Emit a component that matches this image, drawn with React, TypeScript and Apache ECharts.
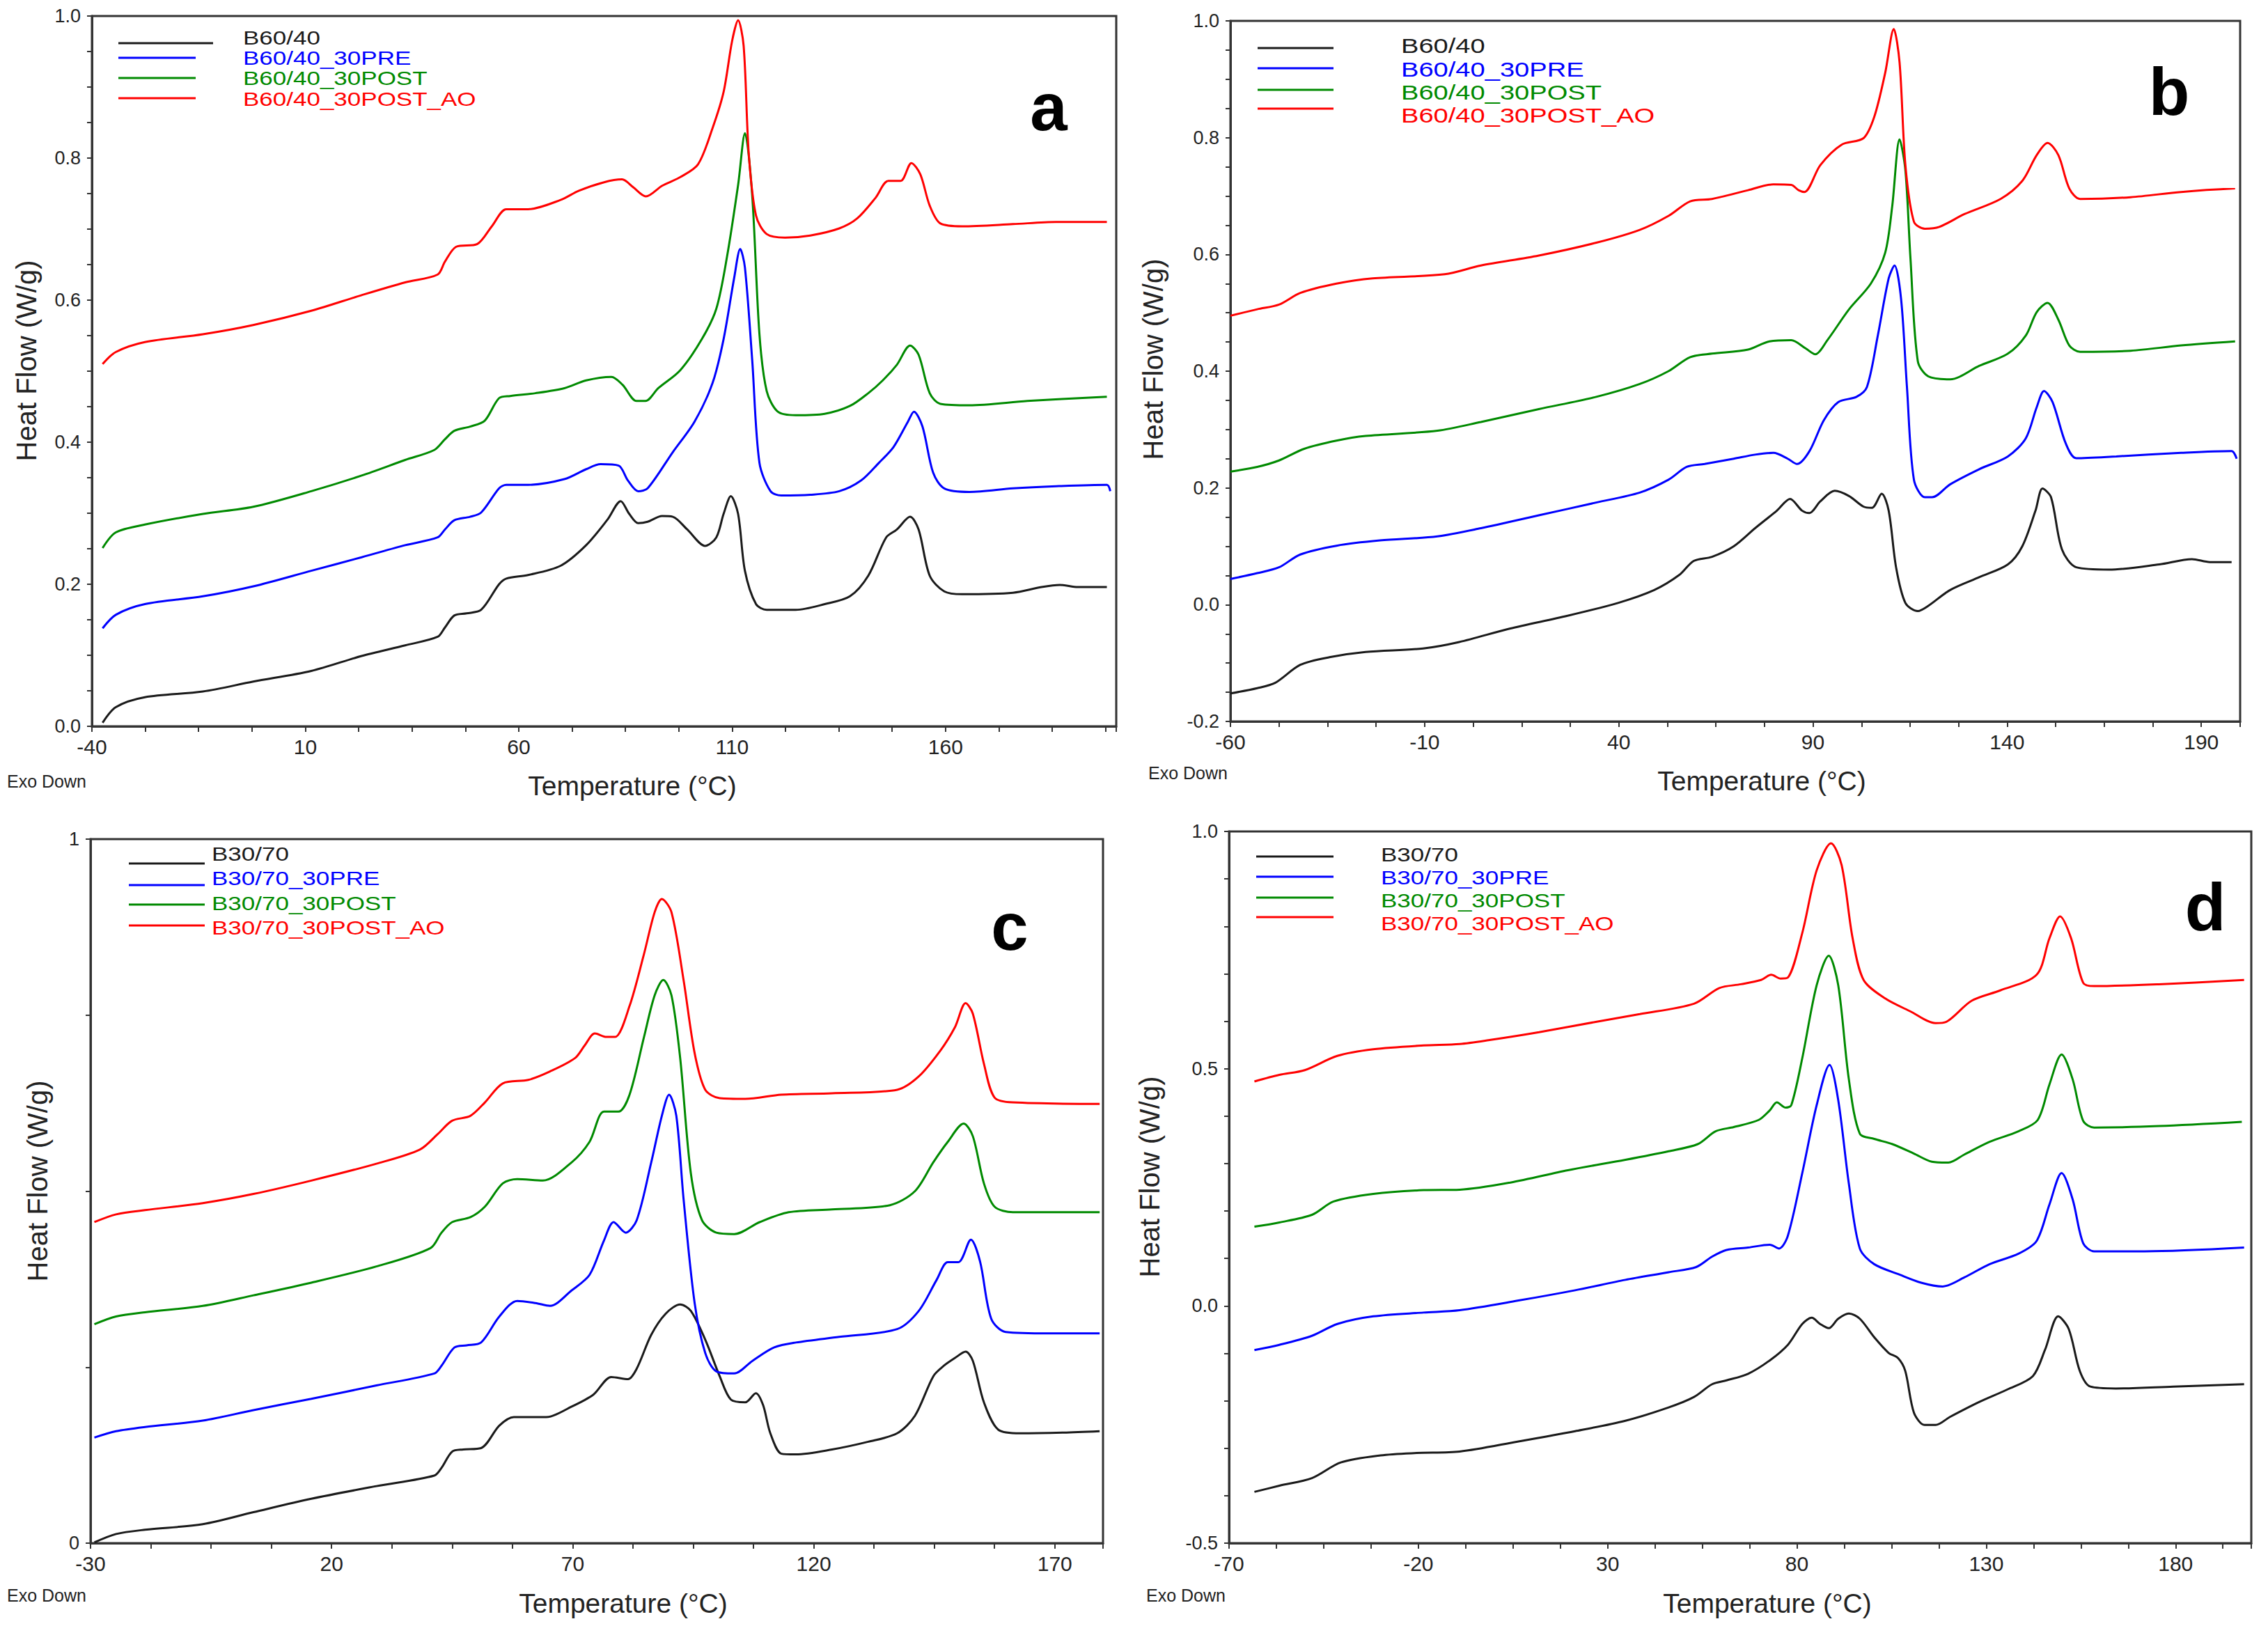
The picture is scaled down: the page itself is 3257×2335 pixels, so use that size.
import React, { useEffect, useRef } from 'react';
import * as echarts from 'echarts';

// ---------- legend names & colours ----------
const namesAB = ['B60/40', 'B60/40_30PRE', 'B60/40_30POST', 'B60/40_30POST_AO'];
const namesCD = ['B30/70', 'B30/70_30PRE', 'B30/70_30POST', 'B30/70_30POST_AO'];
const lineColors = ['#1a1a1a', '#0000ff', '#008a00', '#ff0000'];

// ---------- panel a (B60/40) ----------
const aBlack: [number, number][] = [
  [-37.5, 0.005], [-34.4, 0.027], [-27.6, 0.041], [-14, 0.049], [-2.2, 0.063], [11.4, 0.078], [23.2, 0.099],
  [33.4, 0.114], [41, 0.126], [42.7, 0.139], [44.9, 0.156], [47.8, 0.159], [51.2, 0.164], [55.4, 0.2],
  [57.1, 0.208], [62.2, 0.213], [69.8, 0.226], [75.8, 0.255], [80.8, 0.291], [83.9, 0.317], [85.9, 0.299],
  [88, 0.286], [90.2, 0.288], [93.6, 0.296], [96.1, 0.295], [99.5, 0.277], [103.7, 0.254], [106.3, 0.266],
  [108, 0.299], [109.7, 0.324], [111.4, 0.299], [113, 0.219], [115.6, 0.172], [118.1, 0.164], [124.9, 0.164],
  [131.7, 0.172], [137.6, 0.183], [141.9, 0.212], [146.1, 0.266], [148.6, 0.277], [151.7, 0.295], [153.7, 0.277],
  [156.3, 0.212], [159.7, 0.19], [163.9, 0.186], [175.8, 0.188], [182.5, 0.196], [186.8, 0.199], [191, 0.196],
  [197.8, 0.196],
];
const aBlue: [number, number][] = [
  [-37.5, 0.138], [-34.4, 0.157], [-27.6, 0.172], [-14, 0.183], [-2.2, 0.197], [11.4, 0.219], [23.2, 0.238],
  [33.4, 0.255], [41, 0.266], [42.7, 0.277], [44.9, 0.29], [48.6, 0.295], [51.2, 0.301], [55.4, 0.335],
  [57.1, 0.34], [62.2, 0.34], [70.7, 0.348], [75.8, 0.362], [79.2, 0.369], [83.4, 0.367], [85.6, 0.346],
  [88, 0.331], [90.2, 0.335], [96.1, 0.386], [101.2, 0.429], [105.4, 0.483], [108, 0.545], [110.5, 0.632],
  [111.9, 0.672], [113, 0.646], [114.7, 0.516], [116.4, 0.371], [119, 0.331], [121.5, 0.325], [128.3, 0.326],
  [135.1, 0.331], [140.2, 0.346], [144.4, 0.371], [147.8, 0.393], [151.2, 0.429], [152.6, 0.443], [154.6, 0.422],
  [157.1, 0.357], [159.7, 0.335], [165.6, 0.33], [175.8, 0.335], [185.9, 0.338], [197.8, 0.34], [198.6, 0.331],
];
const aGreen: [number, number][] = [
  [-37.5, 0.251], [-34.4, 0.273], [-27.6, 0.284], [-14, 0.299], [-2.2, 0.309], [11.4, 0.331], [23.2, 0.353],
  [33.4, 0.375], [40.2, 0.389], [42.7, 0.404], [44.9, 0.416], [48.6, 0.422], [52, 0.43], [55.4, 0.462],
  [58, 0.465], [63.9, 0.469], [70.7, 0.476], [75.8, 0.487], [81.7, 0.492], [84.3, 0.481], [87.6, 0.458],
  [89.7, 0.458], [92.7, 0.476], [97.8, 0.501], [102.9, 0.545], [106.3, 0.588], [108.8, 0.661], [111.4, 0.762],
  [113, 0.835], [114.7, 0.748], [116.4, 0.552], [118.1, 0.472], [120.7, 0.443], [124.9, 0.438], [131.7, 0.44],
  [137.6, 0.451], [141.9, 0.469], [145.3, 0.487], [148.6, 0.509], [151.7, 0.536], [153.7, 0.523], [156.3, 0.469],
  [158.8, 0.454], [165.6, 0.452], [179.2, 0.458], [197.8, 0.464],
];
const aRed: [number, number][] = [
  [-37.5, 0.51], [-34.4, 0.527], [-27.6, 0.541], [-14, 0.552], [-2.2, 0.565], [11.4, 0.585], [23.2, 0.607],
  [33.4, 0.625], [41, 0.636], [42.7, 0.654], [45.3, 0.675], [50.3, 0.679], [53.7, 0.704], [57.1, 0.728],
  [62.2, 0.728], [69.8, 0.741], [74.1, 0.754], [80, 0.766], [84.2, 0.77], [86.8, 0.759], [89.8, 0.746],
  [93.6, 0.761], [97.8, 0.773], [102, 0.791], [105.4, 0.842], [108, 0.893], [110, 0.965], [111.4, 0.994],
  [112.7, 0.958], [113.9, 0.806], [115.6, 0.719], [118.1, 0.693], [122.4, 0.688], [128.3, 0.691], [135.1, 0.701],
  [139.3, 0.715], [143.6, 0.744], [146.6, 0.768], [149.5, 0.768], [152, 0.793], [154.1, 0.777], [156.3, 0.733],
  [158.8, 0.708], [163.9, 0.704], [175.8, 0.707], [185.9, 0.71], [197.8, 0.71],
];

// ---------- panel b (B60/40) ----------
const bBlack: [number, number][] = [
  [-60, -0.152], [-53.1, -0.143], [-48.5, -0.134], [-42, -0.103], [-34.5, -0.09], [-25.2, -0.081], [-10.4, -0.075],
  [-1.1, -0.064], [11.9, -0.041], [26.8, -0.019], [39.8, 0.003], [49.1, 0.025], [55.6, 0.051], [59.3, 0.075],
  [64, 0.082], [69.6, 0.1], [75.1, 0.131], [80.7, 0.161], [84.1, 0.181], [87.2, 0.161], [89.1, 0.157],
  [91.9, 0.177], [95.6, 0.195], [99.3, 0.186], [103, 0.168], [105.2, 0.166], [107.7, 0.19], [109.5, 0.161],
  [111.4, 0.064], [113.8, 0.003], [117, -0.011], [119.7, -0.002], [125.3, 0.025], [132.8, 0.047], [140.2, 0.069],
  [143.9, 0.1], [147.3, 0.161], [149.1, 0.199], [151.3, 0.184], [154.1, 0.095], [157.8, 0.064], [166.2, 0.06],
  [179.2, 0.069], [187.6, 0.078], [192.2, 0.073], [197.8, 0.073],
];
const bBlue: [number, number][] = [
  [-60, 0.044], [-53.1, 0.054], [-47.5, 0.064], [-42, 0.086], [-32.7, 0.101], [-21.5, 0.11], [-6.7, 0.117],
  [4.5, 0.131], [19.4, 0.153], [34.2, 0.175], [45.4, 0.192], [52.8, 0.214], [57.5, 0.236], [62.1, 0.241],
  [69.6, 0.25], [75.1, 0.257], [79.8, 0.26], [83.5, 0.25], [85.9, 0.241], [89.1, 0.263], [92.8, 0.316],
  [96.5, 0.347], [101.2, 0.356], [103.9, 0.373], [106.7, 0.461], [109.5, 0.559], [111, 0.581], [112.7, 0.523],
  [114.2, 0.373], [116, 0.214], [118.8, 0.184], [120.7, 0.184], [125.3, 0.206], [132.8, 0.232], [140.2, 0.254],
  [144.8, 0.285], [147.6, 0.338], [149.5, 0.366], [151.7, 0.347], [155.1, 0.276], [157.8, 0.251], [168.1, 0.254],
  [184.8, 0.26], [197.8, 0.263], [199.1, 0.25],
];
const bGreen: [number, number][] = [
  [-60, 0.228], [-53.1, 0.236], [-47.5, 0.247], [-41, 0.267], [-32.7, 0.281], [-25.2, 0.289], [-6.7, 0.298],
  [4.5, 0.313], [19.4, 0.335], [34.2, 0.356], [45.4, 0.378], [52.8, 0.4], [58.4, 0.424], [64, 0.43],
  [73.3, 0.437], [78.8, 0.451], [84.4, 0.453], [88.1, 0.439], [90.6, 0.429], [93.7, 0.453], [99.3, 0.506],
  [104.9, 0.55], [108.6, 0.603], [110.4, 0.682], [112.3, 0.797], [113.8, 0.744], [115.1, 0.594], [117, 0.417],
  [119.7, 0.391], [125.3, 0.386], [132.8, 0.409], [140.2, 0.43], [144.8, 0.461], [147.6, 0.501], [150.4, 0.517],
  [153.2, 0.488], [156, 0.444], [158.8, 0.433], [171.8, 0.435], [184.8, 0.444], [198.7, 0.451],
];
const bRed: [number, number][] = [
  [-60, 0.495], [-53.1, 0.506], [-47.5, 0.514], [-42, 0.534], [-32.7, 0.55], [-23.4, 0.559], [-4.8, 0.566],
  [4.5, 0.581], [19.4, 0.598], [34.2, 0.62], [45.4, 0.642], [52.8, 0.666], [58.4, 0.691], [64, 0.695],
  [73.3, 0.71], [79.8, 0.72], [84.4, 0.719], [86.3, 0.71], [87.8, 0.707], [91.9, 0.753], [97.4, 0.788],
  [103, 0.799], [105.8, 0.836], [108.6, 0.911], [110.8, 0.986], [112.3, 0.929], [113.8, 0.753], [116, 0.656],
  [118.8, 0.644], [122.5, 0.647], [129, 0.669], [138.3, 0.695], [143.9, 0.726], [147.6, 0.77], [150.4, 0.791],
  [153.2, 0.77], [156, 0.713], [158.8, 0.695], [171.8, 0.698], [184.8, 0.707], [198.7, 0.713],
];

// ---------- panel c (B30/70) ----------
const cBlack: [number, number][] = [
  [-29.2, 0.001], [-24.7, 0.013], [-18.7, 0.019], [-6.7, 0.027], [3.8, 0.044], [15.8, 0.063], [29.3, 0.081],
  [41.3, 0.096], [42.8, 0.107], [45, 0.13], [47.3, 0.133], [51, 0.135], [54.8, 0.167], [57.8, 0.179],
  [64.5, 0.179], [69.8, 0.194], [74.3, 0.211], [78, 0.236], [81.5, 0.233], [83.3, 0.248], [86.3, 0.296],
  [89.3, 0.326], [92.3, 0.339], [94.5, 0.33], [97.5, 0.289], [100.5, 0.237], [102.8, 0.204], [105.8, 0.2],
  [108, 0.213], [109.5, 0.196], [111, 0.156], [113.3, 0.127], [116.3, 0.126], [123.8, 0.133], [131.3, 0.144],
  [137.3, 0.156], [141, 0.181], [144.8, 0.237], [147, 0.252], [149.3, 0.263], [151.5, 0.272], [153, 0.259],
  [155.3, 0.2], [158.3, 0.161], [162.8, 0.156], [171.8, 0.157], [179.3, 0.159],
];
const cBlue: [number, number][] = [
  [-29.2, 0.15], [-24.7, 0.159], [-18.7, 0.165], [-6.7, 0.174], [3.8, 0.189], [15.8, 0.205], [29.3, 0.224],
  [41.3, 0.241], [42.8, 0.252], [45.5, 0.278], [48, 0.281], [51, 0.285], [54.8, 0.322], [58.5, 0.344],
  [62.3, 0.341], [65.3, 0.337], [69.8, 0.359], [73.5, 0.381], [76.5, 0.43], [78.5, 0.456], [81, 0.441],
  [83.3, 0.459], [86.3, 0.541], [88.5, 0.607], [90, 0.637], [91.5, 0.607], [93, 0.489], [95.3, 0.341],
  [97.5, 0.27], [99.8, 0.244], [103.5, 0.241], [107.3, 0.259], [111.8, 0.278], [116.3, 0.285], [125.3, 0.293],
  [137.3, 0.304], [141.8, 0.33], [145.5, 0.374], [147.8, 0.399], [150, 0.399], [152.6, 0.431], [154.5, 0.4],
  [156.8, 0.319], [159.8, 0.3], [168.8, 0.298], [179.3, 0.298],
];
const cGreen: [number, number][] = [
  [-29.2, 0.311], [-24.7, 0.322], [-18.7, 0.328], [-6.7, 0.337], [3.8, 0.352], [15.8, 0.37], [29.3, 0.393],
  [40.5, 0.419], [42.8, 0.441], [45, 0.456], [48.8, 0.463], [51.8, 0.478], [55.5, 0.511], [58.5, 0.517],
  [63.8, 0.515], [69.8, 0.541], [73.5, 0.57], [76.5, 0.613], [79.5, 0.613], [81.8, 0.637], [84.8, 0.719],
  [87, 0.778], [88.8, 0.8], [90.5, 0.778], [92.3, 0.689], [94.5, 0.526], [96.8, 0.459], [99.8, 0.441],
  [103.5, 0.439], [108.8, 0.456], [114.8, 0.47], [123.8, 0.474], [135.8, 0.48], [141, 0.5], [144.8, 0.541],
  [147.8, 0.57], [151.1, 0.596], [153, 0.578], [155.3, 0.511], [157.5, 0.478], [161.3, 0.47], [179.3, 0.47],
];
const cRed: [number, number][] = [
  [-29.2, 0.456], [-24.7, 0.467], [-18.7, 0.473], [-6.7, 0.483], [3.8, 0.496], [15.8, 0.515], [29.3, 0.539],
  [38.3, 0.559], [42, 0.581], [45, 0.6], [48.8, 0.607], [51.8, 0.626], [55.5, 0.653], [60.8, 0.658],
  [65.3, 0.67], [70.5, 0.689], [72.5, 0.707], [74.6, 0.724], [77, 0.719], [78.8, 0.719], [81.8, 0.763],
  [84.8, 0.837], [87, 0.896], [88.5, 0.915], [90.5, 0.896], [93, 0.8], [95.3, 0.696], [97.5, 0.644],
  [100.5, 0.632], [105.8, 0.631], [113.3, 0.637], [123.8, 0.639], [137.3, 0.644], [141.8, 0.663], [146.3, 0.7],
  [149.3, 0.733], [151.5, 0.767], [153, 0.752], [155.3, 0.681], [157.5, 0.633], [161.3, 0.626], [179.3, 0.624],
];

// ---------- panel d (B30/70) ----------
const dBlack: [number, number][] = [
  [-63.3, -0.392], [-56.7, -0.379], [-48.1, -0.363], [-40.5, -0.33], [-30, -0.315], [-20.5, -0.31], [-9.1, -0.307],
  [6.2, -0.286], [21.4, -0.264], [34.7, -0.242], [46.1, -0.214], [52.8, -0.192], [57.6, -0.165], [61.4, -0.157],
  [67.1, -0.143], [72.8, -0.115], [77.6, -0.082], [81.4, -0.038], [83.9, -0.025], [86.1, -0.038], [88.4, -0.047],
  [90.9, -0.027], [93.7, -0.016], [96.6, -0.027], [100.4, -0.066], [104.2, -0.099], [106.7, -0.11], [108.6, -0.137],
  [110.9, -0.225], [113.7, -0.251], [116.6, -0.251], [120.4, -0.234], [128, -0.203], [135.6, -0.176], [142.3, -0.148],
  [145.5, -0.093], [149, -0.022], [151.8, -0.049], [154.7, -0.137], [157.5, -0.17], [164.2, -0.174], [179.4, -0.17],
  [198.1, -0.165],
];
const dBlue: [number, number][] = [
  [-63.3, -0.093], [-56.7, -0.082], [-48.1, -0.063], [-41.4, -0.038], [-31.9, -0.022], [-18.6, -0.014], [-9.1, -0.009],
  [6.2, 0.011], [21.4, 0.033], [34.7, 0.055], [46.1, 0.071], [53.4, 0.082], [57.6, 0.104], [61.4, 0.118],
  [67.1, 0.123], [72.8, 0.129], [75.3, 0.121], [77.6, 0.148], [81.4, 0.28], [85.2, 0.423], [88.6, 0.508],
  [90.9, 0.434], [93.7, 0.258], [96.6, 0.121], [100.4, 0.088], [107.1, 0.066], [112.8, 0.049], [118.5, 0.041],
  [124.2, 0.06], [130.9, 0.088], [138.5, 0.11], [143.3, 0.137], [146.7, 0.214], [149.9, 0.28], [152.8, 0.225],
  [155.6, 0.132], [158.5, 0.115], [171.8, 0.115], [198.1, 0.123],
];
const dGreen: [number, number][] = [
  [-63.3, 0.167], [-56.7, 0.176], [-48.1, 0.192], [-42.4, 0.22], [-31.9, 0.236], [-18.6, 0.244], [-9.1, 0.245],
  [4.3, 0.26], [19.5, 0.286], [34.7, 0.308], [46.1, 0.326], [53.8, 0.341], [58.5, 0.368], [63.3, 0.377],
  [69.9, 0.392], [72.8, 0.412], [74.7, 0.429], [77, 0.418], [78.5, 0.423], [81.4, 0.522], [85.2, 0.676],
  [88.4, 0.738], [90.9, 0.676], [93.7, 0.478], [96.6, 0.363], [100.4, 0.352], [105.2, 0.341], [110.9, 0.321],
  [115.6, 0.304], [120, 0.302], [124.2, 0.319], [130.9, 0.346], [138.5, 0.368], [143.6, 0.392], [146.7, 0.467],
  [149.9, 0.53], [152.8, 0.478], [155.6, 0.39], [158.5, 0.376], [175.6, 0.379], [197.5, 0.388],
];
const dRed: [number, number][] = [
  [-63.3, 0.473], [-56.7, 0.487], [-50, 0.497], [-41.4, 0.527], [-31.9, 0.541], [-18.6, 0.549], [-9.1, 0.552],
  [-1.5, 0.56], [11.9, 0.577], [27.1, 0.599], [38.5, 0.615], [52.8, 0.637], [59.5, 0.67], [65.2, 0.678],
  [70.5, 0.687], [73.2, 0.698], [75.7, 0.69], [77.6, 0.692], [81.4, 0.786], [85.2, 0.918], [89, 0.975],
  [91.8, 0.929], [94.7, 0.775], [97.6, 0.687], [103.3, 0.648], [109.9, 0.621], [116.6, 0.596], [119.5, 0.599],
  [126.1, 0.643], [133.7, 0.665], [143.3, 0.698], [146.7, 0.775], [149.5, 0.821], [152.4, 0.775], [155.6, 0.681],
  [158.5, 0.674], [175.6, 0.678], [198.1, 0.687],
];

// ---------- axes ----------
const panelXMin = [-40, -60, -30, -70];
const panelXMax = [200, 200, 180, 200];
const panelXMinor = [12.5, 12.5, 12.5, 12.5];
const panelXLabelStep = [50, 50, 50, 50];
const panelYMin = [0, -0.2, 0, -0.5];
const panelYMax = [1, 1, 1, 1];
const panelYTick = [0.05, 0.05, 0.25, 0.1];
const panelYLabelStep = [0.2, 0.2, 1, 0.5];
const panelYDecimals = [1, 1, 0, 1];
const panelLetters = ['a', 'b', 'c', 'd'];

const panelData = [
  [aBlack, aBlue, aGreen, aRed],
  [bBlack, bBlue, bGreen, bRed],
  [cBlack, cBlue, cGreen, cRed],
  [dBlack, dBlue, dGreen, dRed],
];
const panelNames = [namesAB, namesAB, namesCD, namesCD];

// ---------- layout (not data) ----------
const W = 3241;
const H = 2319;
const grids = [
  { left: 124, top: 15, width: 1471, height: 1020 },
  { left: 1759, top: 22, width: 1450, height: 1006 },
  { left: 122, top: 1197, width: 1454, height: 1011 },
  { left: 1757, top: 1186, width: 1468, height: 1022 },
];
const tempLabelPos = [[900, 1120], [2522, 1113], [887, 2294], [2530, 2294]];
const heatLabelPos = [[30, 510], [1648, 508], [46, 1688], [1643, 1682]];
const exoPos = [[2, 1114], [1641, 1102], [2, 2283], [1638, 2283]];
const letterPos = [[1498, 145], [3107, 123], [1442, 1322], [3159, 1294]];
const legendLayout = [
  { x1: 162, x2: [298, 273, 273, 273], lineY: [54, 75, 104, 133], tx: 341, textY: [46, 75, 104, 134], fs: 28, sx: 1.25 },
  { x1: 1798, x2: [1907, 1907, 1907, 1907], lineY: [61, 90, 121, 148], tx: 2004, textY: [58, 92, 125, 158], fs: 30, sx: 1.27 },
  { x1: 177, x2: [286, 286, 286, 286], lineY: [1232, 1263, 1291, 1321], tx: 296, textY: [1218, 1253, 1289, 1324], fs: 28, sx: 1.25 },
  { x1: 1796, x2: [1907, 1907, 1907, 1907], lineY: [1222, 1251, 1281, 1309], tx: 1975, textY: [1219, 1252, 1285, 1318], fs: 28, sx: 1.25 },
];

const FONT = 'Liberation Sans, Arial, sans-serif';
const AXIS_COLOR = '#333';

function isMultiple(v: number, base: number, step: number) {
  const k = (v - base) / step;
  return Math.abs(k - Math.round(k)) < 1e-6;
}

function buildOption() {
  const xAxis: any[] = [];
  const yAxis: any[] = [];
  const series: any[] = [];
  const graphic: any[] = [];

  for (let p = 0; p < 4; p++) {
    const xmin = panelXMin[p];
    const xstep = panelXLabelStep[p];
    xAxis.push({
      type: 'value',
      gridIndex: p,
      min: xmin,
      max: panelXMax[p],
      interval: panelXMinor[p],
      axisLine: { show: true, onZero: false, lineStyle: { color: AXIS_COLOR, width: 3 } },
      axisTick: { show: true, length: 8, lineStyle: { color: AXIS_COLOR, width: 2 } },
      splitLine: { show: false },
      axisLabel: {
        color: '#222',
        fontFamily: FONT,
        fontSize: 30,
        margin: 14,
        formatter: (v: number) => (isMultiple(v, xmin, xstep) && v < panelXMax[p] - 1e-6 ? String(Math.round(v)) : ''),
      },
    });
    const ymin = panelYMin[p];
    const ystep = panelYLabelStep[p];
    const dec = panelYDecimals[p];
    yAxis.push({
      type: 'value',
      gridIndex: p,
      min: ymin,
      max: panelYMax[p],
      interval: panelYTick[p],
      axisLine: { show: true, onZero: false, lineStyle: { color: AXIS_COLOR, width: 3 } },
      axisTick: { show: true, length: 7, lineStyle: { color: AXIS_COLOR, width: 2 } },
      splitLine: { show: false },
      axisLabel: {
        color: '#222',
        fontFamily: FONT,
        fontSize: 27,
        margin: 16,
        formatter: (v: number) => {
          if (!isMultiple(v, ymin, ystep)) return '';
          const vv = Math.abs(v) < 1e-9 ? 0 : v;
          return vv.toFixed(dec);
        },
      },
    });

    panelData[p].forEach((d, i) => {
      series.push({
        type: 'line',
        name: panelNames[p][i],
        xAxisIndex: p,
        yAxisIndex: p,
        data: d,
        showSymbol: false,
        smooth: 0.3,
        silent: true,
        lineStyle: { width: 3, color: lineColors[i] },
        itemStyle: { color: lineColors[i] },
      });
    });

    // axis titles
    graphic.push({
      type: 'text',
      x: tempLabelPos[p][0],
      y: tempLabelPos[p][1],
      style: { text: 'Temperature (°C)', fontFamily: FONT, fontSize: 39, fill: '#222', textAlign: 'center', textVerticalAlign: 'middle' },
    });
    graphic.push({
      type: 'text',
      x: heatLabelPos[p][0],
      y: heatLabelPos[p][1],
      rotation: Math.PI / 2,
      style: { text: 'Heat Flow (W/g)', fontFamily: FONT, fontSize: 40, fill: '#222', textAlign: 'center', textVerticalAlign: 'middle' },
    });
    graphic.push({
      type: 'text',
      x: exoPos[p][0],
      y: exoPos[p][1],
      style: { text: 'Exo Down', fontFamily: FONT, fontSize: 25, fill: '#222', textAlign: 'left', textVerticalAlign: 'middle' },
    });
    graphic.push({
      type: 'text',
      x: letterPos[p][0],
      y: letterPos[p][1],
      style: { text: panelLetters[p], fontFamily: FONT, fontWeight: 'bold', fontSize: 96, fill: '#000', textAlign: 'center', textVerticalAlign: 'middle' },
    });

    // legend
    const L = legendLayout[p];
    for (let i = 0; i < 4; i++) {
      graphic.push({
        type: 'line',
        shape: { x1: L.x1, y1: L.lineY[i], x2: L.x2[i], y2: L.lineY[i] },
        style: { stroke: lineColors[i], lineWidth: 3 },
      });
      graphic.push({
        type: 'text',
        x: L.tx,
        y: L.textY[i],
        scaleX: L.sx,
        style: { text: panelNames[p][i], fontFamily: FONT, fontSize: L.fs, fill: lineColors[i], textAlign: 'left', textVerticalAlign: 'middle' },
      });
    }
  }

  return {
    animation: false,
    backgroundColor: '#ffffff',
    grid: grids.map((g) => ({ ...g, show: true, borderColor: AXIS_COLOR, borderWidth: 3, backgroundColor: 'transparent', containLabel: false })),
    xAxis,
    yAxis,
    series,
    graphic,
  };
}

export default function App() {
  const ref = useRef<HTMLDivElement>(null);
  useEffect(() => {
    if (!ref.current) return;
    const chart = echarts.init(ref.current, undefined, { renderer: 'svg', width: W, height: H });
    chart.setOption(buildOption() as any);
    return () => chart.dispose();
  }, []);
  return <div ref={ref} style={{ width: W, height: H, background: '#fff' }} />;
}
